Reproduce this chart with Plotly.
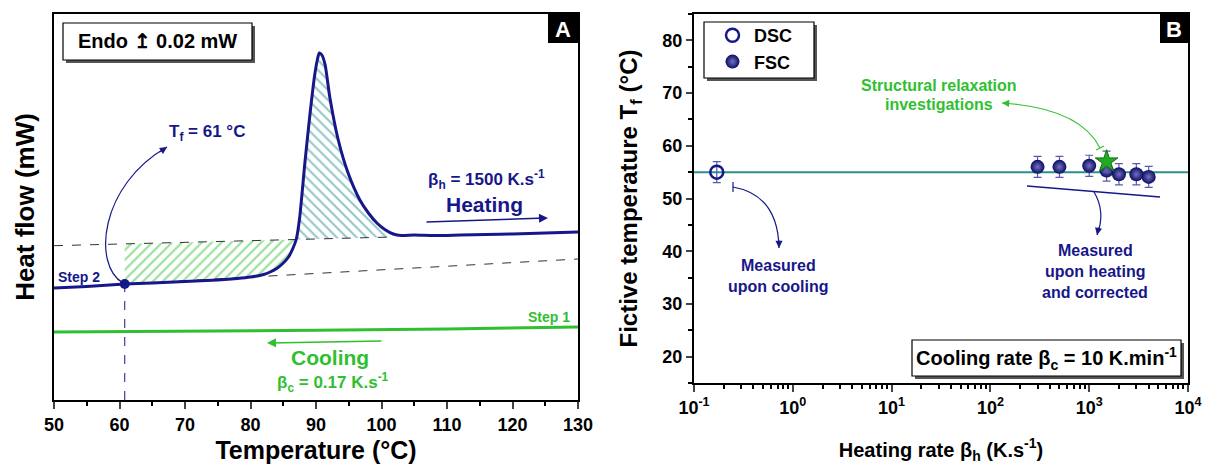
import numpy as np
import plotly.graph_objects as go

W, H = 1212, 468

# ---------------- Panel A data (heat flow, mW, arbitrary offset) ----------------
temp_heating = [50, 55, 60.8, 65, 70, 75, 78, 80, 82, 83, 84, 85, 85.8, 86.5, 87.0, 87.5,
                88.3, 89.1, 89.8, 90.2, 90.5, 90.9, 91.4, 92.1, 93.4, 94.9, 96.7, 98.0,
                99.3, 100.5, 101.8, 103, 105, 108, 112, 116, 120, 125, 130]
hf_heating = [0.112, 0.1135, 0.116, 0.117, 0.1185, 0.120, 0.1215, 0.123, 0.1255, 0.128,
              0.1315, 0.137, 0.143, 0.152, 0.161, 0.182, 0.237, 0.287, 0.325, 0.340,
              0.347, 0.345, 0.335, 0.303, 0.260, 0.227, 0.200, 0.187, 0.177, 0.1705,
              0.166, 0.1645, 0.165, 0.1645, 0.165, 0.1655, 0.166, 0.167, 0.168]
temp_cooling = [50, 70, 90, 110, 130]
hf_cooling = [0.068, 0.0685, 0.0697, 0.071, 0.073]
liquid_T = [50, 101.8]
liquid_hf = [0.1543, 0.163]
glass_T = [60.8, 130]
glass_hf = [0.116, 0.141]
tf_T, tf_hf = 60.8, 0.116
cross_T, end_T = 87.0, 101.8

# ---------------- Panel B data ----------------
dsc_rate = [0.17]
dsc_tf = [55]
dsc_err = [2]
fsc_rate = [300, 500, 1000, 1500, 2000, 3000, 4000]
fsc_tf = [56.0, 56.0, 56.2, 55.3, 54.6, 54.6, 54.1]
fsc_err = [2, 2, 2, 2, 2, 2, 2]
star_rate = [1500]
star_tf = [57]
star_err = [2]
tf_mean = 55
rate_span = [0.1, 10000]

NAVY = '#17178a'
GREEN = '#30bf30'
TEAL = '#2a9090'
FONT = 'Liberation Sans, Arial, sans-serif'


def X(p):
    return p / W


def Y(p):
    return 1 - p / H


def liq(T):
    return list(np.interp(T, liquid_T, liquid_hf))


fig = go.Figure()

# hatched areas
seg1 = [(t, h) for t, h in zip(temp_heating, hf_heating) if tf_T <= t <= cross_T]
seg2 = [(t, h) for t, h in zip(temp_heating, hf_heating) if cross_T <= t <= end_T]
for seg, t0, t1, shape, col in [(seg1, tf_T, cross_T, '/', GREEN), (seg2, cross_T, end_T, '\\', TEAL)]:
    fig.add_trace(go.Scatter(x=[t0, t1], y=liq([t0, t1]), mode='lines', line=dict(width=0),
                             showlegend=False, hoverinfo='skip', xaxis='x', yaxis='y'))
    fig.add_trace(go.Scatter(x=[s[0] for s in seg], y=[s[1] for s in seg], mode='lines',
                             line=dict(width=0, shape='spline', smoothing=0.6), fill='tonexty',
                             fillcolor='rgba(0,0,0,0)',
                             fillpattern=dict(shape=shape, fgcolor=col, bgcolor='rgba(0,0,0,0)',
                                              size=7, solidity=0.3),
                             showlegend=False, hoverinfo='skip', xaxis='x', yaxis='y'))

fig.add_trace(go.Scatter(x=liquid_T, y=liquid_hf, mode='lines', line=dict(color='#333', width=1, dash='dash'),
                         showlegend=False, xaxis='x', yaxis='y'))
fig.add_trace(go.Scatter(x=glass_T, y=glass_hf, mode='lines', line=dict(color='#333', width=1, dash='dash'),
                         showlegend=False, xaxis='x', yaxis='y'))
fig.add_trace(go.Scatter(x=temp_cooling, y=hf_cooling, mode='lines', line=dict(color=GREEN, width=3),
                         showlegend=False, xaxis='x', yaxis='y'))
fig.add_trace(go.Scatter(x=temp_heating, y=hf_heating, mode='lines',
                         line=dict(color=NAVY, width=3, shape='spline', smoothing=0.6),
                         showlegend=False, xaxis='x', yaxis='y'))
fig.add_trace(go.Scatter(x=[tf_T, tf_T], y=[0, tf_hf], mode='lines',
                         line=dict(color=NAVY, width=1, dash='dash'), showlegend=False, xaxis='x', yaxis='y'))
fig.add_trace(go.Scatter(x=[tf_T], y=[tf_hf], mode='markers', marker=dict(color=NAVY, size=10),
                         showlegend=False, xaxis='x', yaxis='y'))

# Panel B
fig.add_trace(go.Scatter(x=rate_span, y=[tf_mean, tf_mean], mode='lines', line=dict(color=TEAL, width=2),
                         showlegend=False, xaxis='x2', yaxis='y2'))
fig.add_trace(go.Scatter(x=dsc_rate, y=dsc_tf, mode='markers', name='DSC',
                         marker=dict(symbol='circle-open', size=13, color=NAVY, line=dict(width=2.5, color=NAVY)),
                         error_y=dict(type='data', array=dsc_err, color='#5a5aa8', thickness=1.2, width=4),
                         xaxis='x2', yaxis='y2'))
fig.add_trace(go.Scatter(x=fsc_rate, y=fsc_tf, mode='markers', name='FSC',
                         marker=dict(symbol='circle', size=14, color='#0c0c60',
                                     gradient=dict(type='radial', color='#7272c4'), line=dict(width=0)),
                         error_y=dict(type='data', array=fsc_err, color='#5a5aa8', thickness=1.2, width=4),
                         xaxis='x2', yaxis='y2'))
fig.add_trace(go.Scatter(x=star_rate, y=star_tf, mode='markers', showlegend=False,
                         marker=dict(symbol='star', size=17, color='#22aa22', line=dict(color='#157015', width=1)),
                         error_y=dict(type='data', array=star_err, color='#5a5aa8', thickness=1.2, width=4),
                         xaxis='x2', yaxis='y2'))

shapes = []
ann = []


def rect(x0, y0, x1, y1, fill, line=None, lw=0, layer='above'):
    shapes.append(dict(type='rect', xref='paper', yref='paper', x0=X(x0), x1=X(x1), y0=Y(y1), y1=Y(y0),
                       fillcolor=fill, line=dict(color=line or fill, width=lw), layer=layer))


def boxed(x0, y0, x1, y1):
    rect(x0 + 3, y0 + 3, x1 + 3, y1 + 3, '#555')
    rect(x0, y0, x1, y1, 'white', 'black', 1.2)


def text(x, y, s, size, color='black', xanchor='center'):
    ann.append(dict(x=X(x), y=Y(y), xref='paper', yref='paper', text=s, showarrow=False,
                    xanchor=xanchor, yanchor='middle',
                    font=dict(family=FONT, size=size, color=color, weight='bold')))


def path(pts, color, width=1.2):
    d = 'M %.5f,%.5f C %.5f,%.5f %.5f,%.5f %.5f,%.5f' % tuple(v for p in pts for v in (X(p[0]), Y(p[1])))
    shapes.append(dict(type='path', xref='paper', yref='paper', path=d, line=dict(color=color, width=width),
                       layer='above'))


def qpath(p0, c, p1, color, width=1.2):
    d = 'M %.5f,%.5f Q %.5f,%.5f %.5f,%.5f' % (X(p0[0]), Y(p0[1]), X(c[0]), Y(c[1]), X(p1[0]), Y(p1[1]))
    shapes.append(dict(type='path', xref='paper', yref='paper', path=d, line=dict(color=color, width=width),
                       layer='above'))


def seg(x0, y0, x1, y1, color, width=1.2):
    shapes.append(dict(type='line', xref='paper', yref='paper', x0=X(x0), y0=Y(y0), x1=X(x1), y1=Y(y1),
                       line=dict(color=color, width=width), layer='above'))


def head(x, y, ax, ay, color, width=1.3, size=1.1):
    ann.append(dict(x=X(x), y=Y(y), xref='paper', yref='paper', ax=ax, ay=ay, text='', showarrow=True,
                    arrowhead=2, arrowsize=size, arrowwidth=width, arrowcolor=color, standoff=0))


# Panel A decorations
boxed(63, 23, 252, 60)
text(157, 41, 'Endo ↥ 0.02 mW', 20)
rect(548, 14, 578, 43, 'black')
text(563, 29, 'A', 22, 'white')
text(167, 133, 'T<sub>f</sub> = 61 °C', 17, NAVY, 'left')
path([(123, 283), (92, 265), (100, 185), (167, 147)], NAVY)
head(167, 147, -9, 6, NAVY)
text(56, 277, 'Step 2', 14, NAVY, 'left')
text(572, 317, 'Step 1', 14, GREEN, 'right')
text(486, 180, 'β<sub>h</sub> = 1500 K.s<sup>-1</sup>', 17, NAVY)
text(484, 204, 'Heating', 21, NAVY)
head(548, 218, -123, 4, NAVY, 1.5, 1.2)
text(330, 357, 'Cooling', 21, GREEN)
text(333, 382, 'β<sub>c</sub> = 0.17 K.s<sup>-1</sup>', 17, GREEN)
head(267, 343, 116, -2, GREEN, 1.5, 1.2)

# Panel B decorations
rect(1160, 14, 1188, 43, 'black')
text(1174, 29, 'B', 22, 'white')
boxed(704, 22, 814, 78)
boxed(912, 340, 1181, 376)
text(1046, 358, 'Cooling rate β<sub>c</sub> = 10 K.min<sup>-1</sup>', 20)
text(939, 85, 'Structural relaxation', 16, GREEN)
text(939, 105, 'investigations', 16, GREEN)
qpath((1100, 148), (1080, 108), (1002, 103), GREEN)
seg(1096, 150, 1104, 146, GREEN)
head(1002, 103, 9, 0.5, GREEN)
text(778, 265, 'Measured', 16, NAVY)
text(778, 286, 'upon cooling', 16, NAVY)
qpath((733, 187), (778, 195), (779, 248), NAVY)
seg(733, 182, 733, 192, NAVY)
head(779, 248, 0, -9, NAVY)
seg(1027, 186, 1160, 197, NAVY, 1.5)
qpath((1094, 192), (1106, 212), (1097, 235), NAVY)
head(1097, 235, 2, -9, NAVY)
text(1095, 250, 'Measured', 16, NAVY)
text(1095, 271, 'upon heating', 16, NAVY)
text(1095, 292, 'and corrected', 16, NAVY)

tickfont = dict(family=FONT, size=18, color='black', weight='bold')

fig.update_layout(
    width=W, height=H, margin=dict(l=0, r=0, t=0, b=0, autoexpand=False),
    paper_bgcolor='white', plot_bgcolor='white',
    font=dict(family=FONT, color='black'),
    shapes=shapes, annotations=ann,
    legend=dict(x=X(711), y=Y(17), xanchor='left', yanchor='top', bgcolor='rgba(0,0,0,0)',
                borderwidth=0, traceorder='normal', itemwidth=33,
                font=dict(family=FONT, size=18, color='black', weight='bold')),
    xaxis=dict(domain=[X(54), X(578)], range=[50, 130], anchor='y', showline=True, linewidth=2,
               linecolor='black', mirror=True, ticks='outside', ticklen=7, tickwidth=2, dtick=10,
               tickfont=tickfont, showgrid=False, zeroline=False, automargin=False,
               minor=dict(dtick=5, ticks='outside', ticklen=4, tickwidth=1.5, tickcolor='black'),
               title=dict(text='Temperature (°C)', standoff=8,
                          font=dict(family=FONT, size=25, color='black', weight='bold'))),
    yaxis=dict(domain=[Y(400), Y(14)], range=[0, 0.386], anchor='x', showline=True, linewidth=2,
               linecolor='black', mirror=True, ticks='', showticklabels=False, showgrid=False,
               zeroline=False, automargin=False,
               title=dict(text='Heat flow (mW)', standoff=10,
                          font=dict(family=FONT, size=26, color='black', weight='bold'))),
    xaxis2=dict(domain=[X(694), X(1188)], type='log', range=[-1, 4], anchor='y2', showline=True,
                linewidth=2, linecolor='black', mirror=True, ticks='outside', ticklen=7, tickwidth=2,
                tickvals=[0.1, 1, 10, 100, 1000, 10000],
                ticktext=['10<sup>-1</sup>', '10<sup>0</sup>', '10<sup>1</sup>', '10<sup>2</sup>',
                          '10<sup>3</sup>', '10<sup>4</sup>'],
                tickfont=tickfont, showgrid=False, zeroline=False, automargin=False,
                minor=dict(dtick='D1', ticks='outside', ticklen=4, tickwidth=1.5, tickcolor='black'),
                title=dict(text='Heating rate β<sub>h</sub> (K.s<sup>-1</sup>)', standoff=26,
                           font=dict(family=FONT, size=20, color='black', weight='bold'))),
    yaxis2=dict(domain=[Y(383), Y(14)], range=[15, 85], anchor='x2', showline=True, linewidth=2,
                linecolor='black', mirror=True, ticks='outside', ticklen=6, tickwidth=2,
                tickvals=[20, 30, 40, 50, 60, 70, 80], tickfont=tickfont, showgrid=False,
                zeroline=False, automargin=False,
                minor=dict(dtick=5, ticks='outside', ticklen=4, tickwidth=1.5, tickcolor='black'),
                title=dict(text='Fictive temperature T<sub>f</sub> (°C)', standoff=18,
                           font=dict(family=FONT, size=24, color='black', weight='bold'))),
)

fig.write_html('out.html')
